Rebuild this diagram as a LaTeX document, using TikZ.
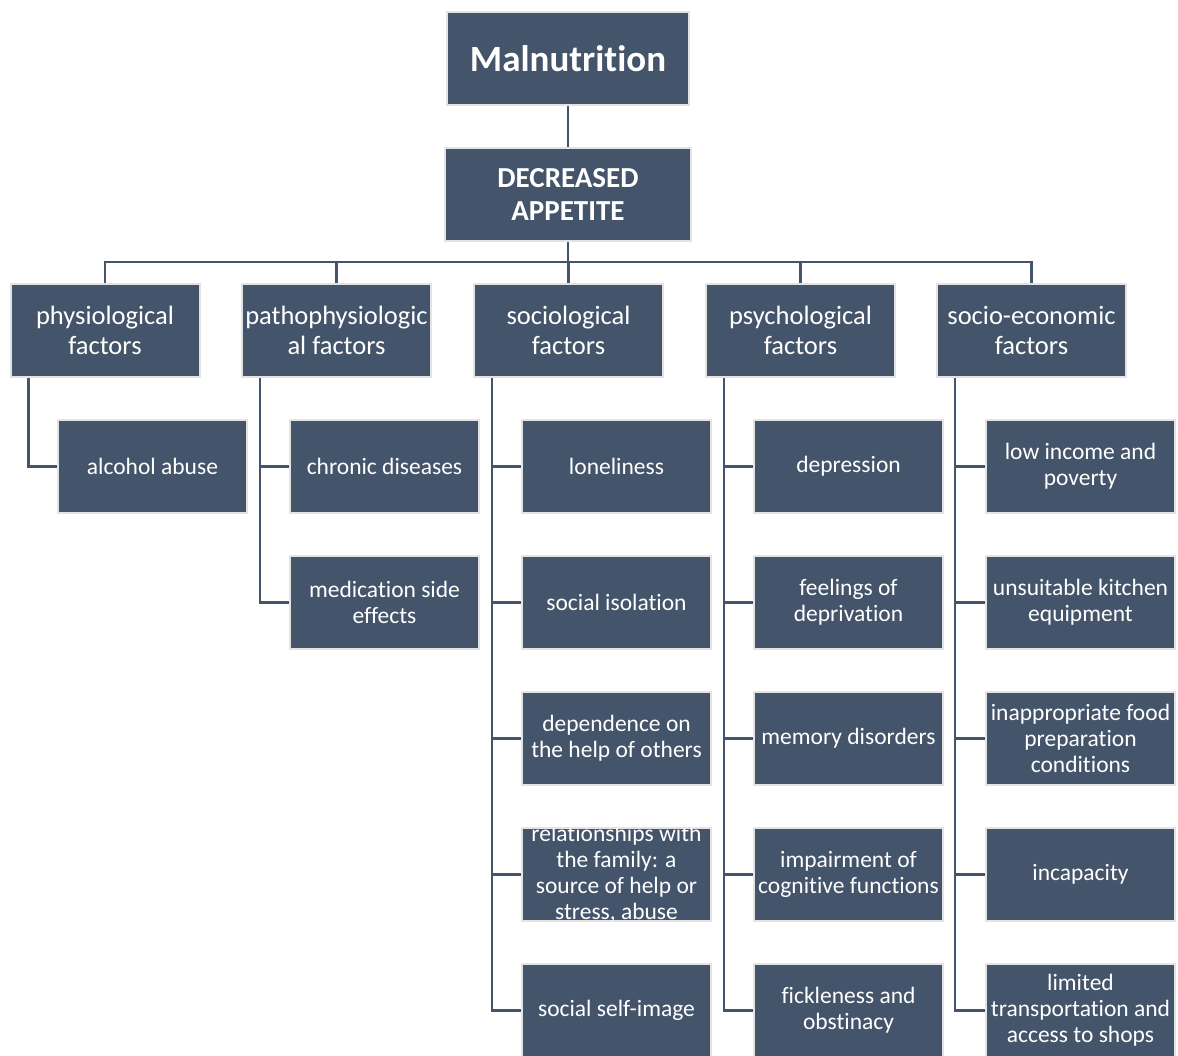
\documentclass[tikz,border=0pt]{standalone}
\usepackage{fontspec}
\setmainfont[Ligatures=NoCommon]{Carlito}
\usetikzlibrary{backgrounds}
\definecolor{boxfill}{HTML}{44546A}
\definecolor{boxedge}{HTML}{E3E3E3}
\tikzset{
  box/.style={draw=boxedge, line width=2pt, fill=boxfill, text=white, align=center,
    inner sep=0pt, minimum width=189pt, minimum height=93pt},
  topbox/.style={box, minimum width=242pt, minimum height=93pt},
  lvtwo/.style={box, font=\fontsize{26.5}{30}\selectfont},
  lvthree/.style={box, font=\fontsize{23.5}{26}\selectfont},
  plaintext/.style={text=white, align=center, inner sep=0pt, font=\fontsize{23.5}{26}\selectfont},
  conn/.style={draw=boxfill, line width=2.6pt},
}
\begin{document}
\begin{tikzpicture}[x=1pt,y=-1pt]
\useasboundingbox (0,0) rectangle (1178,1055);
\clip (0,0) rectangle (1178,1055);

% top
\node[topbox, font=\fontsize{37}{40}\bfseries\selectfont] (mal) at (568,58.5) {Malnutrition};
\node[topbox, minimum width=246pt, font=\fontsize{29}{33}\bfseries\selectfont] (da) at (568,194.5) {DECREASED\\APPETITE};

% level 2
\node[lvtwo] (pa) at (105,330.5) {physiological\\factors};
\node[lvtwo] (pb) at (336.5,330.5) {pathophysiologic\\al factors};
\node[lvtwo] (pc) at (568.5,330.5) {sociological\\factors};
\node[lvtwo] (pd) at (800.5,330.5) {psychological\\factors};
\node[lvtwo] (pe) at (1031.5,330.5) {socio-economic\\factors};

% column a
\node[lvthree] (a1) at (152.5,466.5) {alcohol abuse};
% column b
\node[lvthree] (b1) at (384.5,466.5) {chronic diseases};
\node[lvthree] (b2) at (384.5,602.5) {medication side\\effects};
% column c
\node[lvthree] (c1) at (616.5,466.5) {loneliness};
\node[lvthree] (c2) at (616.5,602.5) {social isolation};
\node[lvthree] (c3) at (616.5,738.5) {dependence on\\the help of others};
\node[lvthree] (c4) at (616.5,874.5) {};
\begin{scope}
  \clip ([xshift=1pt,yshift=-1pt]c4.north west) rectangle ([xshift=-1pt,yshift=1pt]c4.south east);
  \node[plaintext] (c4t) at ([yshift=1pt]c4.center) {relationships with\\the family: a\\source of help or\\stress, abuse};
\end{scope}
\node[lvthree] (c5) at (616.5,1010.5) {social self-image};
% column d
\node[lvthree] (d1) at (848.5,466.5) {depression};
\node[lvthree] (d2) at (848.5,602.5) {feelings of\\deprivation};
\node[lvthree] (d3) at (848.5,738.5) {memory disorders};
\node[lvthree] (d4) at (848.5,874.5) {impairment of\\cognitive functions};
\node[lvthree] (d5) at (848.5,1010.5) {fickleness and\\obstinacy};
% column e
\node[lvthree] (e1) at (1080.5,466.5) {low income and\\poverty};
\node[lvthree] (e2) at (1080.5,602.5) {unsuitable kitchen\\equipment};
\node[lvthree] (e3) at (1080.5,738.5) {inappropriate food\\preparation\\conditions};
\node[lvthree] (e4) at (1080.5,874.5) {incapacity};
\node[lvthree] (e5) at (1080.5,1010.5) {limited\\transportation and\\access to shops};

\coordinate (bus) at (568,262);

\begin{scope}[on background layer]
  \draw[conn] (mal.south) -- (da.north);
  \draw[conn] (da.south) -- (bus);
  \draw[conn] (pa.north) |- (pe.north |- bus) -- (pe.north);
  \draw[conn] (pb.north) -- (pb.north |- bus);
  \draw[conn] (pc.north) -- (pc.north |- bus);
  \draw[conn] (pd.north) -- (pd.north |- bus);

  \draw[conn] ([xshift=19pt]pa.south west) |- (a1.west);

  \draw[conn] ([xshift=19pt]pb.south west) |- (b2.west);
  \draw[conn] ([xshift=19pt]pb.south west |- b1.west) -- (b1.west);

  \draw[conn] ([xshift=19pt]pc.south west) |- (c5.west);
  \foreach \n in {c1,c2,c3,c4}
    \draw[conn] ([xshift=19pt]pc.south west |- \n.west) -- (\n.west);

  \draw[conn] ([xshift=19pt]pd.south west) |- (d5.west);
  \foreach \n in {d1,d2,d3,d4}
    \draw[conn] ([xshift=19pt]pd.south west |- \n.west) -- (\n.west);

  \draw[conn] ([xshift=19pt]pe.south west) |- (e5.west);
  \foreach \n in {e1,e2,e3,e4}
    \draw[conn] ([xshift=19pt]pe.south west |- \n.west) -- (\n.west);
\end{scope}
\end{tikzpicture}
\end{document}
